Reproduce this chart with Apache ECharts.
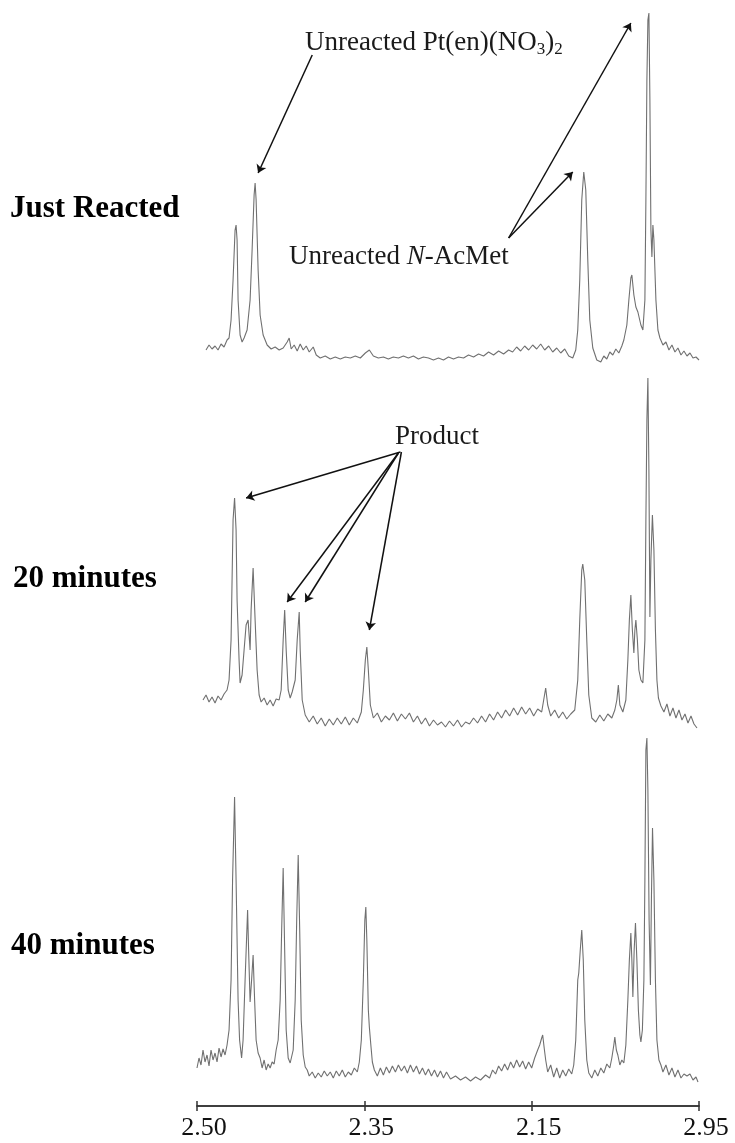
<!DOCTYPE html>
<html>
<head>
<meta charset="utf-8">
<script src="https://cdn.jsdelivr.net/npm/echarts@6/dist/echarts.min.js"></script>
<style>
  html, body { margin: 0; padding: 0; background: #fff; }
  #chart { width: 735px; height: 1143px; }
</style>
</head>
<body>
<div id="chart"></div>
<script>
var tickLabels = ['2.50', '2.35', '2.15', '2.95'];
var traceNames = ['Just Reacted', '20 minutes', '40 minutes'];

// spectra: [shift index, intensity (a.u.)]
var justReacted = [
  [9,20],[12,25],[15,21],[18,24],[21,20],[24,26],[27,23],[30,30],[32,32],[34,50],[36,90],[38,140],[39,145],[40,130],[41,70],
  [43,35],[45,28],[47,32],[50,40],[53,70],[55,120],[57,175],[58,187],[59,170],[61,100],[63,55],[66,35],[70,25],[74,21],
  [78,23],[82,20],[86,22],[90,28],[92,32],[94,21],[97,25],[100,19],[103,26],[106,20],[109,24],[112,18],[116,23],[119,15],
  [123,12],[128,14],[133,11],[138,13],[143,11],[148,13],[153,12],[158,14],[163,12],[168,17],[172,20],[176,14],[181,12],
  [186,13],[191,11],[196,13],[201,12],[206,14],[211,12],[216,14],[221,11],[226,13],[231,12],[236,10],[241,12],[246,10],
  [251,13],[256,11],[261,13],[266,12],[271,15],[276,13],[281,16],[286,14],[291,18],[296,15],[301,19],[306,16],[311,20],
  [315,18],[319,23],[323,19],[327,24],[331,20],[335,25],[339,21],[343,26],[347,20],[351,24],[355,18],[359,22],[363,17],
  [367,21],[371,14],[375,12],[378,20],[380,40],[382,90],[384,170],[386,198],[388,180],[390,110],[392,50],[395,22],[399,10],
  [403,8],[406,14],[409,11],[412,18],[415,15],[418,21],[421,17],[424,24],[426,30],[429,45],[431,70],[433,92],[434,95],
  [436,75],[438,63],[440,58],[443,45],[445,40],[447,70],[448,170],[449,290],[450,350],[451,357],[452,270],[453,140],
  [454,113],[455,145],[456,130],[458,70],[460,40],[462,32],[465,25],[468,28],[471,20],[474,25],[477,18],[480,22],[483,15],
  [486,19],[489,14],[492,17],[495,12],[498,13],[501,10]
];

var twentyMin = [
  [6,35],[9,40],[12,33],[15,38],[18,32],[21,39],[24,35],[27,41],[30,45],[32,55],[34,95],[35,155],[36,215],[37.5,237],
  [39,205],[40,135],[42,75],[43,52],[45,60],[47,85],[49,110],[51,115],[52,100],[53,85],[54,125],[56,167],[58,115],[60,65],
  [62,40],[64,33],[67,37],[70,30],[73,35],[76,29],[79,36],[82,35],[84,45],[86,95],[87.5,125],[89,85],[91,45],[93,37],
  [95,43],[98,55],[100,95],[102,123],[103,85],[105,35],[108,20],[112,13],[116,19],[120,11],[124,17],[128,9],[132,16],
  [136,10],[140,17],[144,11],[148,18],[152,10],[156,17],[160,12],[164,23],[166,45],[168,75],[169.5,88],[171,65],[173,30],
  [176,17],[180,22],[184,13],[188,19],[192,15],[196,22],[200,14],[204,21],[208,16],[212,22],[216,13],[220,19],[224,11],
  [228,17],[232,9],[236,15],[240,10],[244,13],[248,8],[252,14],[256,9],[260,15],[264,8],[268,13],[272,11],[276,17],
  [280,12],[284,19],[288,13],[292,21],[296,15],[300,23],[304,17],[308,25],[312,19],[316,27],[320,20],[324,28],[328,21],
  [332,27],[336,19],[340,26],[344,23],[346,35],[348,47],[350,30],[353,19],[357,25],[361,17],[365,23],[369,16],[373,21],
  [377,25],[380,55],[382,115],[384,165],[385,171],[387,155],[389,95],[391,40],[394,17],[398,13],[402,20],[406,14],
  [410,21],[414,17],[417,25],[419,35],[420.5,50],[422,30],[425,23],[428,35],[430,75],[431.5,115],[433,140],[434.5,105],
  [436,82],[437,105],[438,115],[439.5,95],[441,65],[443,55],[445,52],[447,95],[448,215],[449,315],[450,357],[451,265],
  [452,118],[453,175],[454.5,220],[456,185],[457.5,105],[459,55],[460.5,37],[463,29],[466,23],[469,31],[472,19],[475,27],
  [478,17],[481,25],[484,15],[487,21],[490,12],[493,19],[496,11],[499,7]
];

var fortyMin = [
  [0,38],[2,48],[4,41],[6,56],[8,44],[10,51],[12,40],[14,56],[16,46],[18,53],[20,44],[22,58],[24,49],[26,57],[28,51],
  [30,61],[32,76],[34,126],[35.5,226],[37.5,309],[39,226],[41,106],[42.5,66],[44.5,48],[46,66],[48,126],[50.5,196],
  [51.5,156],[53,104],[54.5,126],[56,151],[57.5,106],[59,66],[61,53],[63,48],[65,38],[67,46],[69,36],[71,42],[73,38],
  [75,44],[77,42],[79,56],[81,66],[83,106],[84.5,176],[86,238],[87.5,156],[89,76],[91,48],[93,43],[94.5,44],[96,56],
  [98,106],[99.5,186],[101,251],[102.5,176],[104,86],[106,51],[108,39],[110,36],[112,30],[115,34],[118,28],[121,33],
  [124,29],[127,35],[130,30],[133,34],[136,28],[139,35],[142,30],[145,36],[148,29],[151,34],[154,31],[157,38],[160,34],
  [162,44],[164,66],[166,126],[167.5,186],[168.5,199],[169.5,166],[171,96],[172,79],[173.5,61],[175,44],[177,36],[180,30],
  [183,38],[186,31],[189,39],[192,33],[195,40],[198,34],[201,41],[204,35],[207,40],[210,33],[213,41],[216,34],[219,40],
  [222,32],[225,38],[228,31],[231,37],[234,30],[237,36],[240,29],[243,35],[246,28],[249,34],[253,27],[258,30],[263,26],
  [268,29],[273,25],[278,29],[283,26],[288,31],[292,28],[295,36],[298,32],[301,40],[304,35],[307,42],[310,36],[313,44],
  [316,38],[319,46],[322,39],[325,45],[328,37],[331,44],[334,38],[337,48],[340,56],[342,61],[344,68],[345,71],[346.5,58],
  [348,46],[350,34],[353,41],[356,29],[359,38],[362,28],[365,36],[368,30],[371,37],[374,32],[376,41],[378,66],[380,126],
  [381,133],[382.5,156],[384,176],[385.5,146],[387,86],[389,46],[391,33],[394,28],[397,36],[400,30],[403,38],[406,33],
  [409,42],[412,38],[414,48],[416,61],[417,69],[418.5,56],[420,51],[422,41],[424,46],[426,43],[428,61],[430,106],
  [431.5,146],[433,173],[434,146],[435,109],[436.3,156],[437.6,183],[439,146],[440.5,96],[442,71],[443,64],[444.5,76],
  [446,126],[447,226],[448,356],[449,368],[450,316],[451.2,186],[452.5,121],[453.5,206],[454.6,278],[456,226],[457.5,126],
  [459,66],[461,46],[463,41],[465,34],[468,41],[471,31],[474,38],[477,29],[480,36],[483,28],[486,32],[489,30],[492,32],
  [495,26],[498,29],[500,24]
];

// annotation arrows: [from, to] in data units of each panel
var arrowsTop = [
  [[115, 315], [61, 197]],
  [[311, 132], [433, 347]],
  [[311, 132], [375, 198]]
];
var arrowsMid = [
  [[203, 283], [49, 237]],
  [[201, 282], [90, 133]],
  [[201, 282], [108, 133]],
  [[204, 283], [172, 105]]
];

var serif = "'Liberation Serif', 'Times New Roman', serif";
var panelTops = [13, 378, 738];
var panelHeights = [357, 357, 368];
var labelY = [209, 579, 946];
var labelX = [10, 13, 11];

var myChart = echarts.init(document.getElementById('chart'));

function arrowMarks(list) {
  return {
    silent: true,
    symbol: ['none', 'arrow'],
    symbolSize: 8,
    label: { show: false },
    lineStyle: { color: '#111', width: 1.5, type: 'solid' },
    emphasis: { disabled: true },
    data: list.map(function (a) {
      return [{ coord: a[0] }, { coord: a[1] }];
    })
  };
}

var grids = [], xAxes = [], yAxes = [];
for (var i = 0; i < 3; i++) {
  grids.push({ left: 197, right: 36, top: panelTops[i], height: panelHeights[i] });
  xAxes.push({
    gridIndex: i,
    type: 'value',
    min: 0,
    max: 501,
    interval: 167,
    show: i === 2,
    axisLine: { lineStyle: { color: '#333', width: 1.5 } },
    axisTick: { length: 5, lineStyle: { color: '#333', width: 1.5 } },
    axisLabel: {
      color: '#111',
      fontSize: 26,
      fontFamily: serif,
      margin: 9,
      padding: [0, 0, 0, 14],
      showMinLabel: true,
      showMaxLabel: true,
      formatter: function (v) { return tickLabels[Math.round(v / 167)]; }
    },
    splitLine: { show: false }
  });
  yAxes.push({ gridIndex: i, type: 'value', min: 0, max: panelHeights[i], show: false });
}
// overlay grid on the bottom panel: upper half of the crossing ticks
grids.push({ left: 197, right: 36, top: panelTops[2], height: panelHeights[2] });
xAxes.push({
  gridIndex: 3, type: 'value', min: 0, max: 501, interval: 167,
  axisLine: { lineStyle: { color: '#333', width: 1.5 } },
  axisTick: { inside: true, length: 5, lineStyle: { color: '#333', width: 1.5 } },
  axisLabel: { show: false },
  splitLine: { show: false }
});
yAxes.push({ gridIndex: 3, type: 'value', min: 0, max: panelHeights[2], show: false });

var spectra = [justReacted, twentyMin, fortyMin];
var series = spectra.map(function (d, i) {
  var s = {
    name: traceNames[i],
    type: 'line',
    xAxisIndex: i,
    yAxisIndex: i,
    data: d,
    symbol: 'none',
    silent: true,
    clip: false,
    lineStyle: { color: '#707070', width: 1.1 }
  };
  if (i === 0) s.markLine = arrowMarks(arrowsTop);
  if (i === 1) s.markLine = arrowMarks(arrowsMid);
  return s;
});

var graphics = traceNames.map(function (t, i) {
  return {
    type: 'text', x: labelX[i], y: labelY[i],
    style: { text: t, fontFamily: serif, fontSize: 31, fontWeight: 'bold', fill: '#000', verticalAlign: 'middle' }
  };
});
graphics.push({
  type: 'text', x: 305, y: 43,
  style: {
    text: 'Unreacted Pt(en)(NO{s|3}){s|2}',
    fontFamily: serif, fontSize: 27, fill: '#1a1a1a', verticalAlign: 'middle', lineHeight: 30,
    rich: { s: { fontFamily: serif, fontSize: 17, fill: '#1a1a1a', lineHeight: 6, verticalAlign: 'bottom' } }
  }
});
graphics.push({
  type: 'text', x: 289, y: 257,
  style: {
    text: 'Unreacted {i|N}-AcMet',
    fontFamily: serif, fontSize: 27, fill: '#1a1a1a', verticalAlign: 'middle',
    rich: { i: { fontFamily: serif, fontSize: 27, fontStyle: 'italic', fill: '#1a1a1a' } }
  }
});
graphics.push({
  type: 'text', x: 395, y: 437,
  style: { text: 'Product', fontFamily: serif, fontSize: 27, fill: '#1a1a1a', verticalAlign: 'middle' }
});

myChart.setOption({
  animation: false,
  backgroundColor: '#fff',
  grid: grids,
  xAxis: xAxes,
  yAxis: yAxes,
  series: series,
  graphic: graphics
});
</script>
</body>
</html>
